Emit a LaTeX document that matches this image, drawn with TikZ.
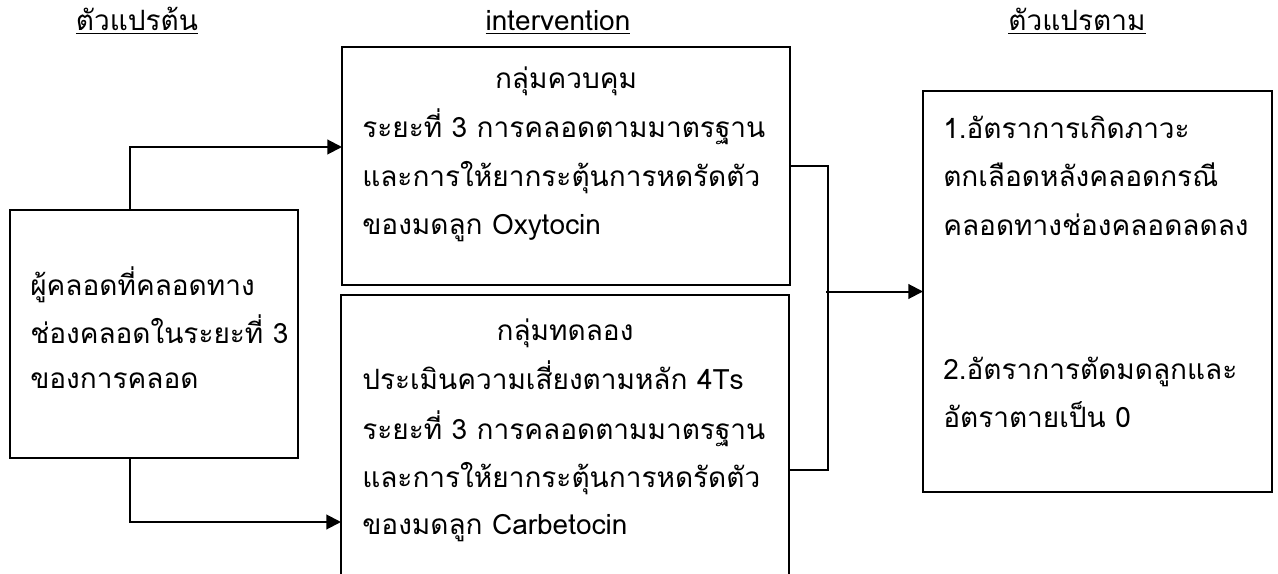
\documentclass[tikz,border=0pt]{standalone}
\usepackage{fontspec}
\setmainfont[Script=Thai]{Loma}
\usetikzlibrary{arrows.meta,calc}
\begin{document}
\begin{tikzpicture}[x=0.75pt,y=-0.75pt,
  box/.style={draw,line width=1.5pt,inner sep=0pt,outer sep=0pt,anchor=north west},
  lbl/.style={inner sep=0pt,anchor=base west,font=\fontsize{21}{24}\selectfont},
  ctr/.style={lbl,anchor=base},
  con/.style={line width=1.5pt},
  arr/.style={con,-{Triangle[length=11pt,width=11pt]}}]
\clip (0,0) rectangle (1278,574);
\fill[white] (0,0) rectangle (1278,574);
% headers
\node[ctr] (h1) at (137,31) {\underline{ตัวแปรต้น}};
\node[ctr] (h2) at (558,31) {\underline{intervention}};
\node[ctr] (h3) at (1077,31) {\underline{ตัวแปรตาม}};
% boxes
\node[box,minimum width=216pt,minimum height=186pt] (left) at (10,210) {};
\node[box,minimum width=336pt,minimum height=178.5pt] (ctrl) at (342,47) {};
\node[box,minimum width=336pt,minimum height=262.5pt] (exp) at (341,295) {};
\node[box,minimum width=261.75pt,minimum height=300.75pt] (out) at (923,91) {};
% left text
\node[lbl] (l1) at (30,295) {ผู้คลอดที่คลอดทาง};
\node[lbl] (l2) at (30,343) {ช่องคลอดในระยะที่ 3};
\node[lbl] (l3) at (30,388) {ของการคลอด};
% control text
\node[ctr] (c1) at (566,89) {กลุ่มควบคุม};
\node[lbl] (c2) at (362,137.5) {ระยะที่ 3 การคลอดตามมาตรฐาน};
\node[lbl] (c3) at (362,186) {และการให้ยากระตุ้นการหดรัดตัว};
\node[lbl] (c4) at (362,234.5) {ของมดลูก Oxytocin};
% experiment text
\node[ctr] (e1) at (565,340) {กลุ่มทดลอง};
\node[lbl] (e2) at (362,389) {ประเมินความเสี่ยงตามหลัก 4Ts};
\node[lbl] (e3) at (362,439) {ระยะที่ 3 การคลอดตามมาตรฐาน};
\node[lbl] (e4) at (362,487) {และการให้ยากระตุ้นการหดรัดตัว};
\node[lbl] (e5) at (362,534) {ของมดลูก Carbetocin};
% outcome text
\node[lbl] (o1) at (943,139) {1.อัตราการเกิดภาวะ};
\node[lbl] (o2) at (943,187) {ตกเลือดหลังคลอดกรณี};
\node[lbl] (o3) at (943,235) {คลอดทางช่องคลอดลดลง};
\node[lbl] (o4) at (943,379) {2.อัตราการตัดมดลูกและ};
\node[lbl] (o5) at (943,427) {อัตราตายเป็น 0};
% connectors
\coordinate (j) at ($(ctrl.east)+(36,0)$);
\draw[arr] ($(left.north west)+(120,0)$) |- ($(ctrl.north west)+(0,100)$);
\draw[arr] ($(left.south west)+(120,0)$) |- ($(exp.north west)+(0,227)$);
\draw[con] (ctrl.east) -- ++(38,0) |- (exp.east);
\draw[arr] (j |- out.west) -- (out.west);
\end{tikzpicture}
\end{document}
